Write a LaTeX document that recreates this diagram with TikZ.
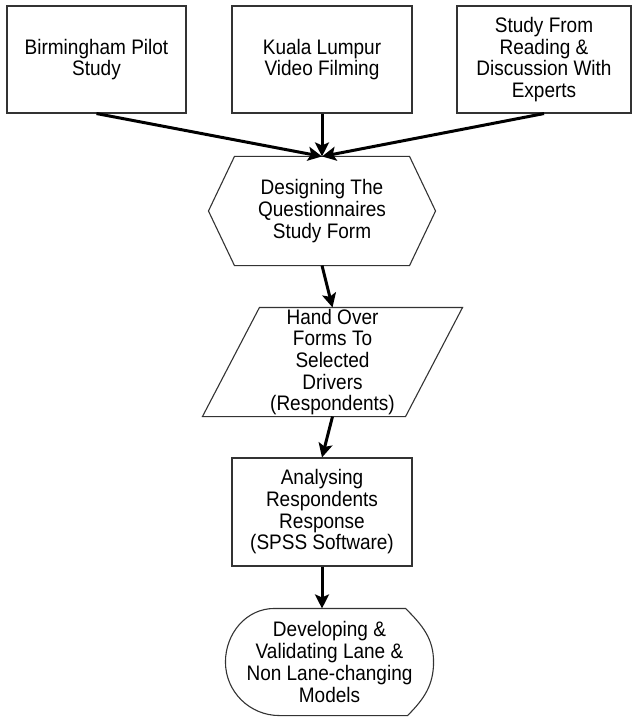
\documentclass[tikz,border=0pt]{standalone}
\usepackage{fontspec}
\setmainfont{Liberation Sans}
\newfontfamily\boxfont[FakeStretch=0.905]{Liberation Sans}
\usepackage{tikz}
\usetikzlibrary{arrows,arrows.meta}
\usetikzlibrary{shapes,backgrounds}

\begin{document}
\begin{tikzpicture}[x=1pt,y=-1pt,>={Stealth[length=14pt,width=14pt,inset=3pt]},
                    main node/.style={rectangle,draw=black!80,line width=1.1pt,align=center,inner sep=0pt,
                                      font=\boxfont\fontsize{21}{21.7}\selectfont},
                    text node/.style={main node,draw=none},
                    outline/.style={-,draw=black!80,line width=1.1pt,line join=miter}]
  \useasboundingbox (0,0) rectangle (632,719);

  \node[main node,minimum width=179pt,minimum height=107pt] (1) at (96.5,59.5) {Birmingham Pilot\\Study};
  \node[main node,minimum width=180pt,minimum height=107pt] (2) at (322,59.5) {Kuala Lumpur\\Video Filming};
  \node[main node,minimum width=174pt,minimum height=107pt] (3) at (544,59.5) {Study From\\Reading \&\\Discussion With\\Experts};
  \node[text node,minimum width=226pt,minimum height=108pt] (4) at (322,211) {Designing The\\Questionnaires\\Study Form};
  \node[text node,minimum width=259pt,minimum height=108pt] (5) at (332.5,362) {Hand Over\\Forms To\\Selected\\Drivers\\(Respondents)};
  \node[main node,minimum width=180pt,minimum height=108pt] (6) at (322,512) {Analysing\\Respondents\\Response\\(SPSS Software)};
  \node[text node,minimum width=207pt,minimum height=106pt] (7) at (329.5,662) {Developing \&\\Validating Lane \&\\Non Lane-changing\\Models};

  % hexagon
  \draw[outline] (4.west) -- ([xshift=26pt]4.north west) -- ([xshift=-26pt]4.north east)
    -- (4.east) -- ([xshift=-26pt]4.south east) -- ([xshift=26pt]4.south west) -- cycle;
  % parallelogram
  \draw[outline] ([xshift=57pt]5.north west) -- (5.north east)
    -- ([xshift=-57pt]5.south east) -- (5.south west) -- cycle;
  % rounded sides
  \draw[outline] ([xshift=49pt]7.north west) -- ([xshift=-28pt]7.north east)
    to[out=-45,in=90] (7.east) to[out=-90,in=45] ([xshift=-26pt]7.south east)
    -- ([xshift=54pt]7.south west)
    to[out=180,in=-90] (7.west) to[out=90,in=180] ([xshift=49pt]7.north west) -- cycle;

  \path[->,line width=3pt]
    (1.south) edge (4.north)
    (2.south) edge (4.north)
    (3.south) edge (4.north)
    (4.south) edge (5.north)
    (5.south) edge (6.north)
    (6.south) edge (6.south |- 7.north)
    ;
\end{tikzpicture}
\end{document}
